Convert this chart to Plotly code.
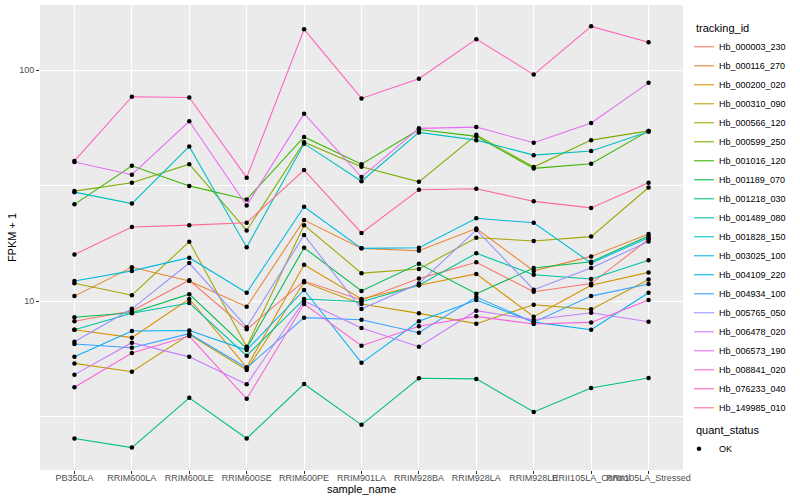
import plotly.graph_objects as go

samples = ["PB350LA", "RRIM600LA", "RRIM600LE", "RRIM600SE", "RRIM600PE",
           "RRIM901LA", "RRIM928BA", "RRIM928LA", "RRIM928LE",
           "RRII105LA_Control", "RRII105LA_Stressed"]

tracking_ids = ["Hb_000003_230", "Hb_000116_270", "Hb_000200_020", "Hb_000310_090",
                "Hb_000566_120", "Hb_000599_250", "Hb_001016_120", "Hb_001189_070",
                "Hb_001218_030", "Hb_001489_080", "Hb_001828_150", "Hb_003025_100",
                "Hb_004109_220", "Hb_004934_100", "Hb_005765_050", "Hb_006478_020",
                "Hb_006573_190", "Hb_008841_020", "Hb_076233_040", "Hb_149985_010"]

colors = ["#F8766D", "#EA8331", "#D89000", "#C09B00", "#A3A500", "#7CAE00", "#39B600",
          "#00BB4E", "#00BF7D", "#00C1A3", "#00BFC4", "#00BAE0", "#00B0F6", "#35A2FF",
          "#9590FF", "#C77CFF", "#E76BF3", "#FA62DB", "#FF62BC", "#FF6C91"]

# FPKM + 1 values, one list per tracking_id (order of samples)
hb_000003_230 = [8.17, 9.05, 12.3, 7.54, 12.2, 10.1, 12.5, 14.7, 10.97, 11.9, 18.5]
hb_000116_270 = [10.5, 14.0, 12.2, 9.45, 22.4, 16.9, 16.5, 20.6, 13.5, 15.6, 19.5]
hb_000200_020 = [7.51, 6.94, 10.2, 5.16, 14.36, 10.2, 11.7, 13.1, 8.55, 11.7, 13.3]
hb_000310_090 = [5.37, 4.94, 7.15, 5.03, 12.05, 9.7, 8.84, 7.98, 9.64, 9.2, 12.4]
hb_000566_120 = [11.93, 10.6, 18.07, 6.34, 21.3, 13.2, 13.75, 18.8, 18.2, 19.0, 31.0]
hb_000599_250 = [29.9, 32.5, 39.1, 20.2, 48.7, 38.1, 32.8, 52.4, 38.0, 49.7, 54.5]
hb_001016_120 = [26.2, 38.5, 31.5, 27.5, 51.3, 39.1, 55.3, 51.6, 37.5, 39.3, 54.5]
hb_001189_070 = [8.5, 8.9, 10.7, 6.24, 17.0, 11.05, 14.5, 10.75, 13.9, 14.8, 19.1]
hb_001218_030 = [2.54, 2.32, 3.81, 2.54, 4.37, 2.91, 4.63, 4.6, 3.31, 4.2, 4.64]
hb_001489_080 = [7.51, 8.85, 9.8, 5.8, 10.2, 9.93, 11.7, 16.1, 13.0, 12.45, 15.0]
hb_001828_150 = [29.6, 26.4, 46.7, 17.1, 48.0, 33.0, 53.7, 49.7, 42.8, 44.6, 54.0]
hb_003025_100 = [12.2, 13.5, 15.4, 10.86, 25.6, 16.9, 17.0, 22.8, 21.8, 14.6, 18.8]
hb_004109_220 = [5.74, 7.42, 7.45, 6.13, 11.16, 5.4, 8.17, 10.1, 8.1, 7.51, 10.86]
hb_004934_100 = [6.51, 6.28, 7.22, 5.14, 8.47, 8.3, 7.29, 10.4, 8.1, 10.5, 11.85]
hb_005765_050 = [6.66, 9.25, 14.6, 7.7, 19.3, 9.23, 11.9, 20.3, 11.2, 13.9, 18.1]
hb_006478_020 = [4.80, 6.6, 5.73, 4.36, 10.0, 7.64, 6.34, 9.08, 8.3, 8.9, 8.13]
hb_006573_190 = [40.0, 35.2, 60.0, 25.9, 64.7, 34.4, 55.9, 56.6, 48.4, 59.0, 88.0]
hb_008841_020 = [4.23, 5.96, 7.05, 3.77, 9.7, 6.4, 7.77, 8.58, 7.95, 8.08, 10.1]
hb_076233_040 = [40.4, 76.6, 76.0, 34.2, 150.0, 75.3, 91.6, 136.0, 95.5, 154.5, 132.0]
hb_149985_010 = [15.9, 20.9, 21.3, 21.8, 36.9, 19.7, 30.3, 30.6, 27.0, 25.3, 32.5]

series = [hb_000003_230, hb_000116_270, hb_000200_020, hb_000310_090, hb_000566_120,
          hb_000599_250, hb_001016_120, hb_001189_070, hb_001218_030, hb_001489_080,
          hb_001828_150, hb_003025_100, hb_004109_220, hb_004934_100, hb_005765_050,
          hb_006478_020, hb_006573_190, hb_008841_020, hb_076233_040, hb_149985_010]

quant_status = "OK"

fig = go.Figure()
for tid, col, vals in zip(tracking_ids, colors, series):
    fig.add_trace(go.Scatter(x=samples, y=vals, mode="lines", name=tid,
                             line=dict(color=col, width=1.07), legend="legend",
                             hoverinfo="skip"))

all_x = [s for _ in series for s in samples]
all_y = [v for vals in series for v in vals]
fig.add_trace(go.Scatter(x=all_x, y=all_y, mode="markers", name=quant_status,
                         marker=dict(color="black", size=4.5, symbol="circle"),
                         legend="legend2", hoverinfo="skip"))

fig.update_layout(
    width=800, height=500,
    margin=dict(l=40, r=117, t=5, b=30),
    paper_bgcolor="white", plot_bgcolor="#EBEBEB",
    font=dict(family="Liberation Sans, Arial, sans-serif", size=9, color="#4D4D4D"),
    xaxis=dict(type="category", categoryorder="array", categoryarray=samples,
               range=[-0.6, 10.6], showgrid=True, gridcolor="white", gridwidth=1.07,
               zeroline=False, showline=False, ticks="outside", ticklen=3,
               tickcolor="#333333", tickwidth=1, automargin=False, tickangle=0,
               ticklabelstandoff=-4,
               tickfont=dict(size=9, color="#4D4D4D"),
               title=dict(text="sample_name", font=dict(size=11, color="black"), standoff=0)),
    yaxis=dict(type="log", range=[0.2684, 2.2814], tickvals=[10, 100], ticktext=["10", "100"],
               showgrid=True, gridcolor="white", gridwidth=1.07, zeroline=False, showline=False,
               ticks="outside", ticklen=3, tickcolor="#333333", tickwidth=1, automargin=False,
               tickfont=dict(size=9, color="#4D4D4D"),
               minor=dict(tickvals=[10 ** 0.5, 10 ** 1.5], showgrid=True,
                          gridcolor="white", gridwidth=0.55),
               title=dict(text="FPKM + 1", font=dict(size=11, color="black"), standoff=0)),
    legend=dict(title=dict(text="tracking_id", font=dict(size=11, color="black")),
                x=(694 - 40) / 643, xanchor="left", y=1 - (18 - 5) / 465, yanchor="top",
                bgcolor="rgba(0,0,0,0)", font=dict(size=9, color="black"),
                indentation=-15, tracegroupgap=0),
    legend2=dict(title=dict(text="quant_status", font=dict(size=11, color="black")),
                 x=(694 - 40) / 643, xanchor="left", y=1 - (420 - 5) / 465, yanchor="top",
                 bgcolor="rgba(0,0,0,0)", font=dict(size=9, color="black"),
                 indentation=-15),
)

fig.write_html("out.html", config={"displayModeBar": False},
               post_script="document.body.style.margin='0px';document.body.style.overflow='hidden';")
